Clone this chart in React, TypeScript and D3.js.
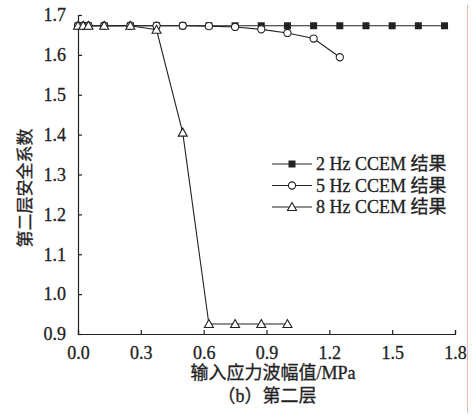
import React, { useEffect, useRef } from 'react';
import * as d3 from 'd3';

const xs2 = [0, 0.025, 0.05, 0.125, 0.25, 0.375, 0.5, 0.625, 0.75, 0.875, 1.0, 1.125, 1.25, 1.375, 1.5, 1.625, 1.75];
const ys2 = [1.673, 1.673, 1.673, 1.673, 1.673, 1.673, 1.673, 1.673, 1.673, 1.673, 1.673, 1.673, 1.673, 1.673, 1.673, 1.673, 1.673];

const xs5 = [0, 0.025, 0.05, 0.125, 0.25, 0.375, 0.5, 0.625, 0.75, 0.875, 1.0, 1.125, 1.25];
const ys5 = [1.673, 1.673, 1.673, 1.673, 1.673, 1.673, 1.673, 1.672, 1.67, 1.664, 1.655, 1.641, 1.594];

const xs8 = [0, 0.025, 0.05, 0.125, 0.25, 0.375, 0.5, 0.625, 0.75, 0.875, 1.0];
const ys8 = [1.673, 1.673, 1.673, 1.673, 1.673, 1.663, 1.405, 0.925, 0.925, 0.925, 0.925];

const xTicks = [0, 0.3, 0.6, 0.9, 1.2, 1.5, 1.8];
const yTicks = [0.9, 1.0, 1.1, 1.2, 1.3, 1.4, 1.5, 1.6, 1.7];
const legendLabels = ['2 Hz CCEM 结果', '5 Hz CCEM 结果', '8 Hz CCEM 结果'];
const markers = ['square', 'circle', 'triangle'];

const FONT = '"Liberation Serif", "Noto Sans CJK SC", serif';
const INK = '#222';

const App = () => {
  const ref = useRef<SVGSVGElement>(null);

  useEffect(() => {
    drawChart(ref);
  }, [ref]);

  return (
    <svg
      ref={ref}
      width={475}
      height={418}
      style={{ position: 'absolute', left: 0, top: 0, background: 'white' }}
    ></svg>
  );
};

function drawMarker(g: any, kind: string, cx: number, cy: number) {
  if (kind === 'square') {
    g.append('rect')
      .attr('x', cx - 3.5)
      .attr('y', cy - 3.5)
      .attr('width', 7)
      .attr('height', 7)
      .attr('fill', INK);
  } else if (kind === 'circle') {
    g.append('circle')
      .attr('cx', cx)
      .attr('cy', cy)
      .attr('r', 3.6)
      .attr('fill', 'white')
      .attr('stroke', INK)
      .attr('stroke-width', 1.1);
  } else {
    g.append('path')
      .attr('d', `M${cx},${cy - 4.5}L${cx + 4.5},${cy + 3.5}L${cx - 4.5},${cy + 3.5}Z`)
      .attr('fill', 'white')
      .attr('stroke', INK)
      .attr('stroke-width', 1.1);
  }
}

// slightly heavier text, like the scanned figure
function styleText(sel: any, size: number) {
  sel
    .style('font-family', FONT)
    .style('font-size', size + 'px')
    .attr('fill', INK)
    .attr('stroke', INK)
    .attr('stroke-width', 0.3);
}

function drawChart(ref: React.RefObject<SVGSVGElement>) {
  const margin = { top: 15, left: 78 },
    width = 377,
    height = 319;

  const root = d3.select(ref.current);
  root.selectAll('*').remove();

  // pink edge line from the scan
  root
    .append('line')
    .attr('x1', 467.5)
    .attr('x2', 467.5)
    .attr('y1', 5)
    .attr('y2', 413)
    .attr('stroke', '#f2b8b8')
    .attr('stroke-width', 1);

  const svg = root.append('g').attr('transform', `translate(${margin.left},${margin.top})`);

  const x = d3.scaleLinear().domain([0, 1.8]).range([0, width]);
  const y = d3.scaleLinear().domain([0.9, 1.7]).range([height, 0]);

  // X axis
  const xAxis = svg
    .append('g')
    .attr('transform', `translate(0,${height})`)
    .call(
      d3
        .axisBottom(x)
        .tickValues(xTicks)
        .tickSize(-4)
        .tickSizeOuter(-4)
        .tickPadding(12)
        .tickFormat(d3.format('.1f'))
    );
  styleText(xAxis.selectAll('text'), 18);
  xAxis.selectAll('line,path').attr('stroke', INK).attr('stroke-width', 1.2);

  // Y axis
  const yAxis = svg.append('g').call(
    d3
      .axisLeft(y)
      .tickValues(yTicks)
      .tickSize(-4)
      .tickSizeOuter(-4)
      .tickPadding(12)
      .tickFormat(d3.format('.1f'))
  );
  styleText(yAxis.selectAll('text'), 18);
  yAxis.selectAll('line,path').attr('stroke', INK).attr('stroke-width', 1.2);

  const series = [
    { xs: xs2, ys: ys2, marker: markers[0] },
    { xs: xs5, ys: ys5, marker: markers[1] },
    { xs: xs8, ys: ys8, marker: markers[2] },
  ];

  const line = d3
    .line<[number, number]>()
    .x((d) => x(d[0]))
    .y((d) => y(d[1]));

  series.forEach((s) => {
    const pts = s.xs.map((v, i) => [v, s.ys[i]] as [number, number]);
    svg
      .append('path')
      .datum(pts)
      .attr('fill', 'none')
      .attr('stroke', INK)
      .attr('stroke-width', 1.1)
      .attr('d', line);
  });
  series.forEach((s) => {
    const g = svg.append('g');
    s.xs.forEach((v, i) => drawMarker(g, s.marker, x(v), y(s.ys[i])));
  });

  // Legend
  const legend = root.append('g').attr('transform', 'translate(272,164)');
  legendLabels.forEach((label, i) => {
    const row = legend.append('g').attr('transform', `translate(0,${i * 21.5})`);
    row
      .append('line')
      .attr('x1', 0)
      .attr('x2', 40)
      .attr('stroke', INK)
      .attr('stroke-width', 1.1);
    drawMarker(row, markers[i], 20, 0);
    styleText(row.append('text').attr('x', 44).attr('y', 6).text(label), 18);
  });

  // Axis titles
  styleText(
    root
      .append('text')
      .attr('x', 273)
      .attr('y', 379)
      .attr('text-anchor', 'middle')
      .text('输入应力波幅值/MPa'),
    18
  );

  styleText(
    root
      .append('text')
      .attr('x', 267)
      .attr('y', 402)
      .attr('text-anchor', 'middle')
      .text('（b）第二层'),
    18
  );

  styleText(
    root
      .append('text')
      .attr('transform', 'translate(31,188) rotate(-90)')
      .attr('text-anchor', 'middle')
      .text('第二层安全系数'),
    17
  );
}

export default App;
